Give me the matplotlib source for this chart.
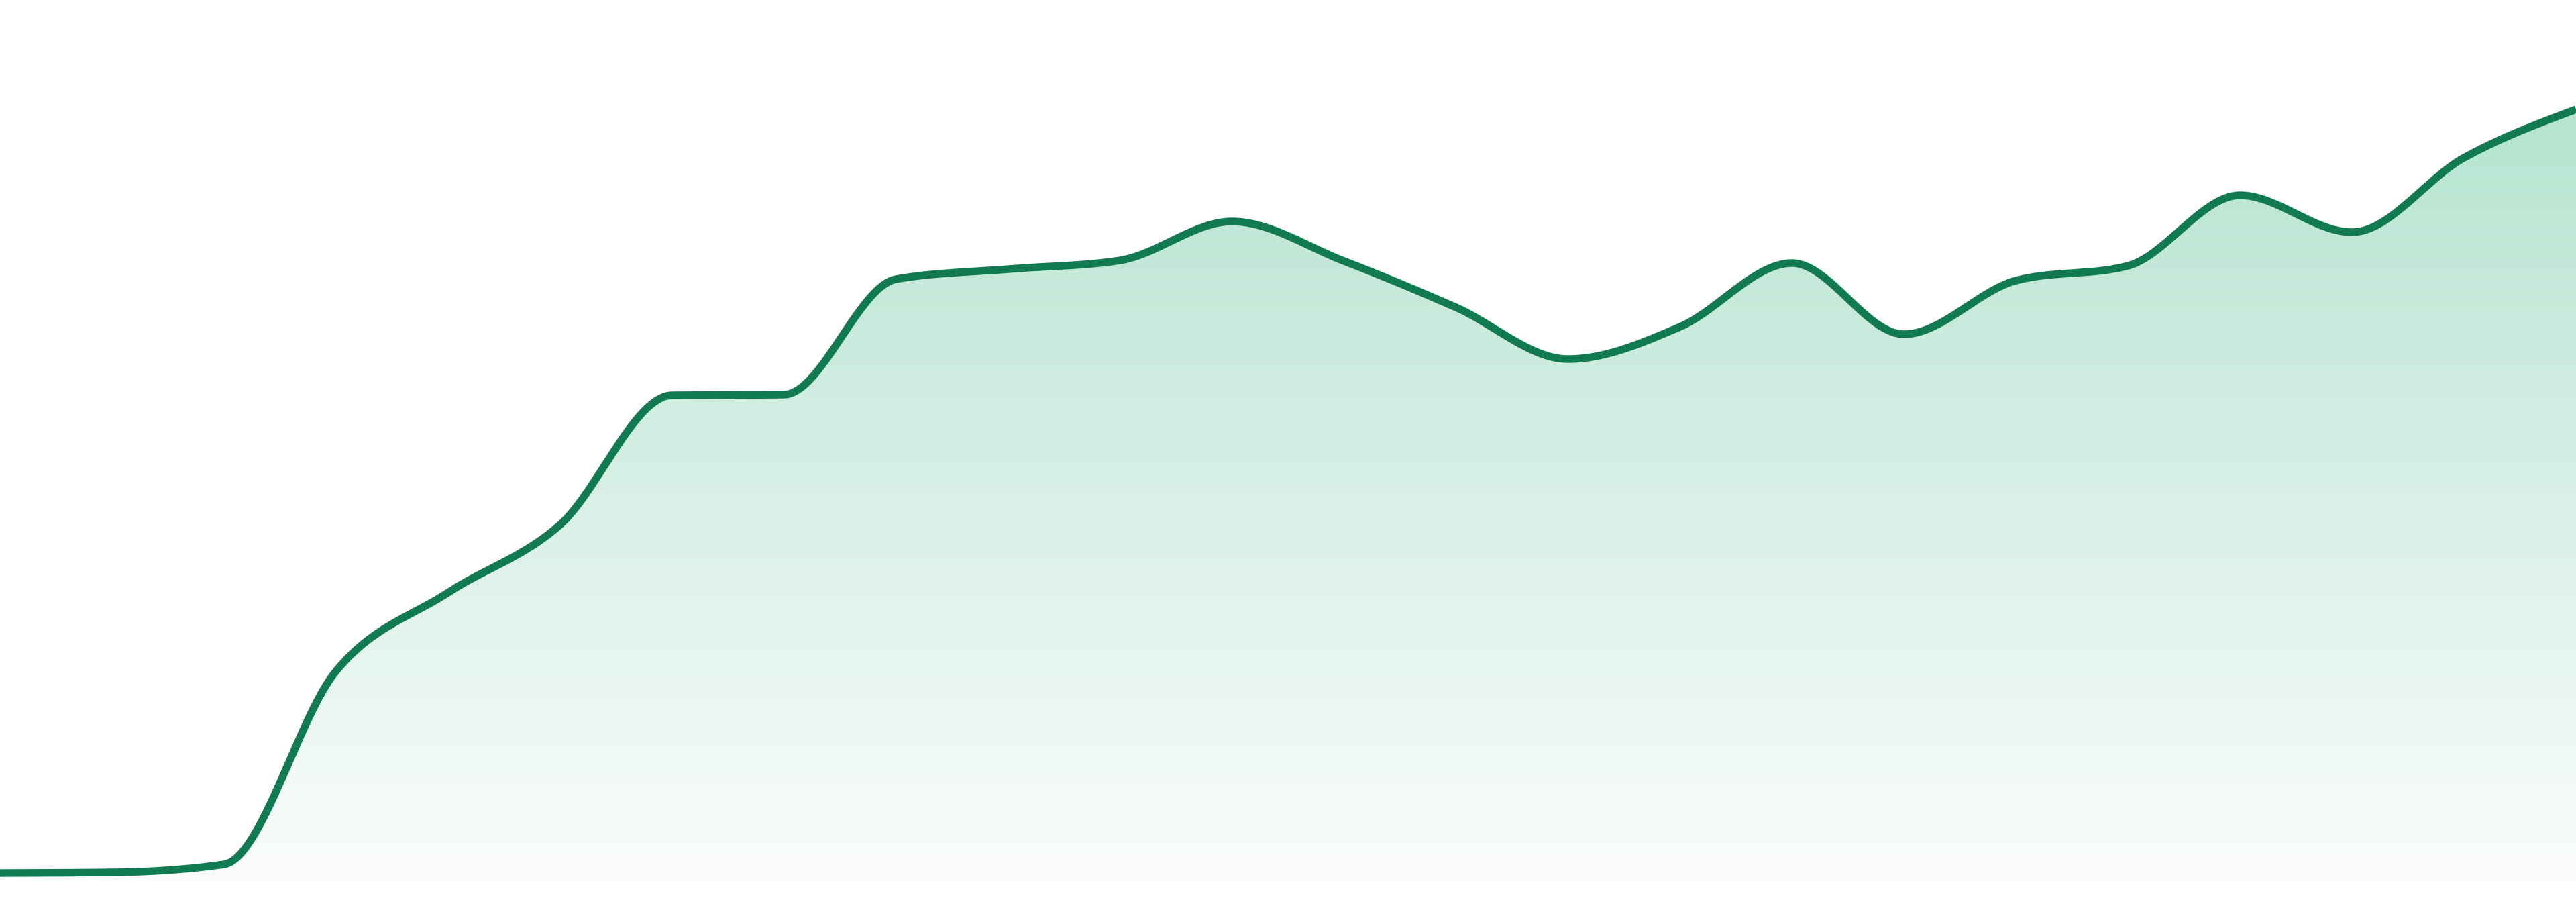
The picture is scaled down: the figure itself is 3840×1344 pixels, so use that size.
import numpy as np
import matplotlib
matplotlib.use("Agg")
import matplotlib.pyplot as plt
from matplotlib.colors import LinearSegmentedColormap

# values, 24 evenly spaced points
values = [0, 0.1, 1.3, 30.1, 41.8, 51.9, 71.2, 71.3, 88.5, 90.0, 91.3, 97.1,
          91.2, 84.3, 76.6, 81.4, 90.9, 80.3, 88.3, 90.5, 101.0, 95.5, 106.6, 113.8]
points = np.arange(len(values))

line_color = "#117a51"
fill_top = "#b6e4d1"
fill_bottom = "#fafcfb"


def monotone_slopes(x, y):
    # same tangents as d3.curveMonotoneX
    x = np.asarray(x, float)
    y = np.asarray(y, float)
    n = len(x)
    t = np.zeros(n)
    sgn = lambda v: -1.0 if v < 0 else 1.0
    for i in range(1, n - 1):
        h0 = x[i] - x[i - 1]
        h1 = x[i + 1] - x[i]
        s0 = (y[i] - y[i - 1]) / h0
        s1 = (y[i + 1] - y[i]) / h1
        p = (s0 * h1 + s1 * h0) / (h0 + h1)
        t[i] = (sgn(s0) + sgn(s1)) * min(abs(s0), abs(s1), 0.5 * abs(p))
    h = x[1] - x[0]
    t[0] = (3 * (y[1] - y[0]) / h - t[1]) / 2
    h = x[-1] - x[-2]
    t[-1] = (3 * (y[-1] - y[-2]) / h - t[-2]) / 2
    return t


def smooth(x, y, n=80):
    x = np.asarray(x, float)
    y = np.asarray(y, float)
    t = monotone_slopes(x, y)
    xs, ys = [], []
    for i in range(len(x) - 1):
        h = x[i + 1] - x[i]
        u = np.linspace(0, 1, n, endpoint=(i == len(x) - 2))
        h00 = 2 * u**3 - 3 * u**2 + 1
        h10 = u**3 - 2 * u**2 + u
        h01 = -2 * u**3 + 3 * u**2
        h11 = u**3 - u**2
        xs.append(x[i] + u * h)
        ys.append(h00 * y[i] + h10 * h * t[i] + h01 * y[i + 1] + h11 * h * t[i + 1])
    return np.concatenate(xs), np.concatenate(ys)


xs, ys = smooth(points, values)

fig = plt.figure(figsize=(38.4, 13.44), dpi=100)
ax = fig.add_axes([0, 0, 1, 1])
ax.set_xlim(0, len(values) - 1)
ax.set_ylim(-4.3, 130.1)
ax.axis("off")

base = -1.0
area = ax.fill_between(xs, ys, base, color="none", lw=0)
cmap = LinearSegmentedColormap.from_list("fade", [fill_bottom, fill_top])
grad = ax.imshow(np.linspace(0, 1, 256).reshape(-1, 1), cmap=cmap, origin="lower",
                 extent=[0, len(values) - 1, base, max(values)], aspect="auto",
                 interpolation="bilinear", zorder=1)
grad.set_clip_path(area.get_paths()[0], ax.transData)

ax.plot(xs, ys, color=line_color, lw=8.2, solid_capstyle="butt", zorder=3)

fig.savefig("out.png", dpi=100, facecolor="white")
